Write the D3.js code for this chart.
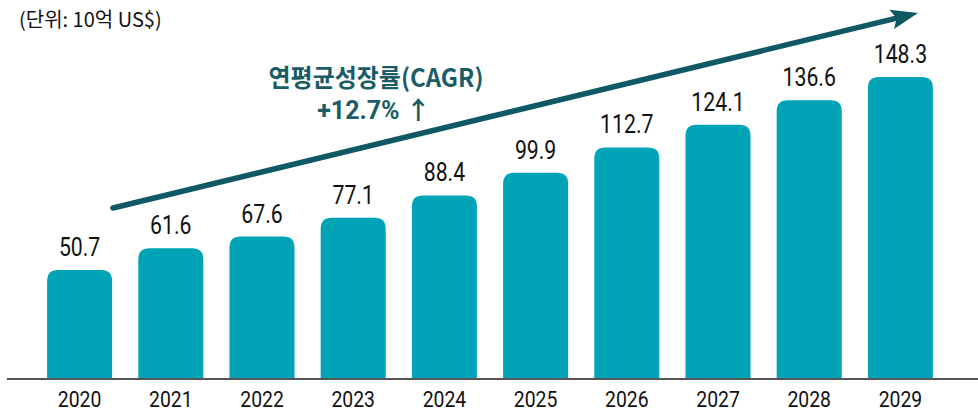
<!DOCTYPE html>
<html>
<head>
<meta charset="utf-8">
<script src="https://cdn.jsdelivr.net/npm/d3@7"></script>
<style>
  html, body { margin: 0; padding: 0; background: #fff; }
  svg { display: block; }
</style>
</head>
<body>
<div id="chart"></div>
<script>
const years = ["2020", "2021", "2022", "2023", "2024", "2025", "2026", "2027", "2028", "2029"];
const values = [50.7, 61.6, 67.6, 77.1, 88.4, 99.9, 112.7, 124.1, 136.6, 148.3];
const unitLabel = "(단위: 10억 US$)";
const cagrTitle = "연평균성장률(CAGR)";
const cagrValue = "+12.7% ↑";

const width = 978, height = 413;
const baseY = 378;

const svg = d3.select("#chart").append("svg")
    .attr("width", width)
    .attr("height", height);

const x = d3.scaleBand()
    .domain(years)
    .range([34, 946])
    .paddingInner(0.287)
    .paddingOuter(0.1435);

const y = d3.scaleLinear()
    .domain([-4, 150])
    .range([baseY, baseY - 154 * 1.976]);

// bars with rounded top corners
function barPath(x0, y0, w, h, r) {
    r = Math.min(r, h, w / 2);
    return `M${x0},${y0 + h}V${y0 + r}Q${x0},${y0} ${x0 + r},${y0}H${x0 + w - r}Q${x0 + w},${y0} ${x0 + w},${y0 + r}V${y0 + h}Z`;
}

svg.selectAll("path.bar")
    .data(values)
    .join("path")
    .attr("class", "bar")
    .attr("fill", "#00A4B6")
    .attr("d", (d, i) => barPath(x(years[i]), y(d), x.bandwidth(), baseY - y(d), 11));

// baseline
svg.append("line")
    .attr("x1", 7).attr("x2", width)
    .attr("y1", baseY + 1).attr("y2", baseY + 1)
    .attr("stroke", "#555")
    .attr("stroke-width", 2);

// value labels (condensed look)
svg.selectAll("text.val")
    .data(values)
    .join("text")
    .attr("class", "val")
    .attr("transform", (d, i) => `translate(${x(years[i]) + x.bandwidth() / 2},${y(d) - 14}) scale(0.85,1)`)
    .attr("text-anchor", "middle")
    .attr("font-family", "Roboto, sans-serif")
    .attr("font-size", 25)
    .attr("fill", "#111")
    .text(d => d.toFixed(1));

// year labels
svg.selectAll("text.year")
    .data(years)
    .join("text")
    .attr("class", "year")
    .attr("transform", d => `translate(${x(d) + x.bandwidth() / 2},${407}) scale(0.88,1)`)
    .attr("text-anchor", "middle")
    .attr("font-family", "Roboto, sans-serif")
    .attr("font-size", 22)
    .attr("fill", "#111")
    .text(d => d);

// unit label
svg.append("text")
    .attr("transform", "translate(19,27)")
    .attr("font-family", "'Noto Sans CJK KR', Roboto, sans-serif")
    .attr("font-size", 20)
    .attr("fill", "#111")
    .text(unitLabel);

// growth arrow
const ax0 = 113, ay0 = 208, ax1 = 918, ay1 = 13;
const len = Math.hypot(ax1 - ax0, ay1 - ay0);
const ux = (ax1 - ax0) / len, uy = (ay1 - ay0) / len;
const headLen = 27, headHalf = 10;
const bx = ax1 - ux * headLen, by = ay1 - uy * headLen;

svg.append("line")
    .attr("x1", ax0).attr("y1", ay0)
    .attr("x2", bx + ux * 4).attr("y2", by + uy * 4)
    .attr("stroke", "#0F5965")
    .attr("stroke-width", 5.5)
    .attr("stroke-linecap", "round");

svg.append("path")
    .attr("fill", "#0F5965")
    .attr("d", `M${ax1},${ay1}L${bx - uy * headHalf},${by + ux * headHalf}L${bx + ux * 5},${by + uy * 5}L${bx + uy * headHalf},${by - ux * headHalf}Z`);

// CAGR annotation
svg.append("text")
    .attr("transform", "translate(376,87) scale(0.96,1)")
    .attr("text-anchor", "middle")
    .attr("font-family", "'Noto Sans CJK KR', sans-serif")
    .attr("font-weight", "bold")
    .attr("font-size", 25)
    .attr("fill", "#1A5D67")
    .text(cagrTitle);

svg.append("text")
    .attr("transform", "translate(374,119)")
    .attr("text-anchor", "middle")
    .attr("font-family", "Roboto, 'Noto Sans CJK KR', sans-serif")
    .attr("font-weight", "bold")
    .attr("font-size", 25)
    .attr("fill", "#1A5D67")
    .text(cagrValue);
</script>
</body>
</html>
